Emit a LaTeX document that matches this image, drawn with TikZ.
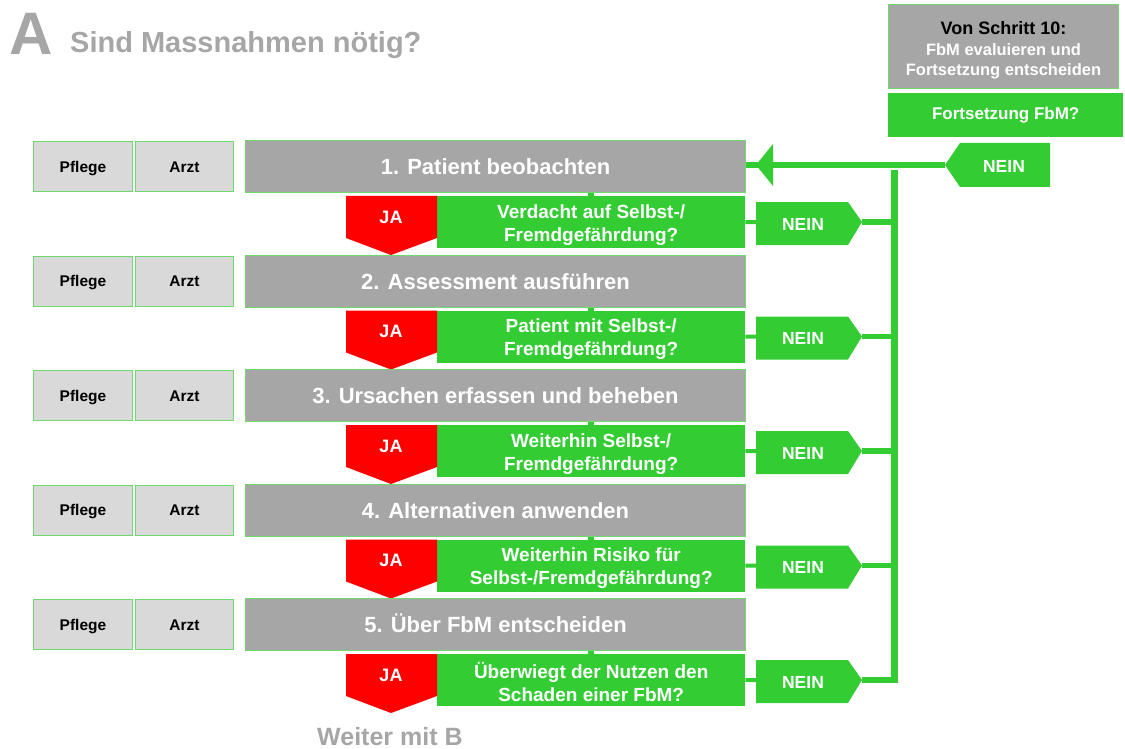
\documentclass[tikz,border=0pt]{standalone}
\usepackage{fontspec}
\setmainfont{Liberation Sans}
\usetikzlibrary{calc}
\definecolor{boxgray}{HTML}{A6A6A6}
\definecolor{fgreen}{HTML}{33CC33}
\definecolor{lgray}{HTML}{D9D9D9}
\definecolor{bgreen}{HTML}{70D870}
\definecolor{jared}{HTML}{FF0000}
\definecolor{titlegray}{HTML}{A6A6A6}
\tikzset{
 pfl/.style={draw=bgreen, line width=1pt, fill=lgray, minimum width=99pt, minimum height=50pt, inner sep=0pt, anchor=north west, font=\bfseries\fontsize{15.5}{18}\selectfont, text=black, text height=11pt, text depth=0pt},
 stepbox/.style={draw=bgreen, line width=1pt, fill=boxgray, minimum width=500pt, minimum height=52pt, inner sep=0pt, anchor=north west, font=\bfseries\fontsize{22}{26}\selectfont, text=white, text height=16pt, text depth=0pt},
 qbox/.style={fill=fgreen, minimum width=308pt, minimum height=52pt, inner sep=0pt, anchor=north west, align=center, font=\bfseries\fontsize{19}{23}\selectfont, text=white},
 jatext/.style={font=\bfseries\fontsize{18}{20}\selectfont, text=white, inner sep=0pt},
 neintext/.style={font=\bfseries\fontsize{17.5}{20}\selectfont, text=white, inner sep=0pt},
 titletext/.style={anchor=base west, text=titlegray, inner sep=0pt},
 jashape/.style={fill=jared},
 neinshape/.style={fill=fgreen},
 thinlink/.style={draw=fgreen, line width=4pt},
 link/.style={draw=fgreen, line width=5.5pt},
 mainlink/.style={draw=fgreen, line width=6pt},
}
\newcommand\flowrow[4]{%
 \node[pfl] (pf#1) at (33,#2+1) {Pflege};
 \node[pfl, minimum width=98pt] (ar#1) at (135,#2+1) {Arzt};
 \node[stepbox] (s#1) at (245,#2) {#3};
 \node[qbox] (q#1) at (437,#2+56) {\rule{0pt}{19pt}#4};
 \fill[jashape] (346,#2+56) -- (437,#2+56) -- (437,#2+98) -- (391,#2+115) -- (346,#2+98) -- cycle;
 \node[jatext] (ja#1) at (391,#2+77) {JA};
 \coordinate (nl#1) at (756,#2+82);
 \coordinate (nt#1) at (862,#2+82);
 \fill[neinshape] (756,#2+62) -- (848,#2+62) -- (nt#1) -- (848,#2+105) -- (756,#2+105) -- cycle;
 \node[neintext] (n#1) at (803,#2+84) {NEIN};
 \draw[link] (s#1.south -| q#1.north) -- (q#1.north);
 \draw[thinlink] (q#1.east) -- (nl#1);
 \draw[link] (nt#1) -- (nt#1 -| vline);
}
\begin{document}
\begin{tikzpicture}[x=1pt,y=-1pt]
\useasboundingbox (0,0) rectangle (1125,749);
% title
\node[titletext, font=\bfseries\fontsize{60}{60}\selectfont] (bigA) at (9,55) {A};
\node[titletext, font=\bfseries\fontsize{29}{32}\selectfont] (title) at (70,53) {Sind Massnahmen nötig?};
% top right
\node[draw=bgreen, line width=1pt, fill=boxgray, minimum width=230pt, minimum height=84pt, anchor=north west, align=center, text=white, font=\bfseries\fontsize{16.5}{20}\selectfont, inner sep=0pt] (von) at (888,4) {{\color{black}\fontsize{18}{21}\selectfont\rule{0pt}{21pt}Von Schritt 10:}\\[1pt]FbM evaluieren und\\Fortsetzung entscheiden};
\node[fill=fgreen, minimum width=235pt, minimum height=44pt, anchor=north west, text=white, font=\bfseries\fontsize{17}{20}\selectfont, inner sep=0pt] (fz) at (888,93) {Fortsetzung FbM?};
\coordinate (ntip) at (945,165);
\fill[neinshape] (ntip) -- (960,143) -- (1050,143) -- (1050,187) -- (960,187) -- cycle;
\node[neintext] (ntop) at (1004,166) {NEIN};
% vertical return line
\coordinate (vline) at (897,0);
\coordinate (vtop) at (894,170);
\coordinate (vbot) at (894,683);
\draw[mainlink, line width=7pt] (vtop) -- (vbot);
% rows
\flowrow{1}{140}{1. Patient beobachten}{Verdacht auf Selbst-/\\Fremdgefährdung?}
\flowrow{2}{254.5}{2. Assessment ausführen}{Patient mit Selbst-/\\Fremdgefährdung?}
\flowrow{3}{369}{3. Ursachen erfassen und beheben}{Weiterhin Selbst-/\\Fremdgefährdung?}
\flowrow{4}{483.5}{4. Alternativen anwenden}{Weiterhin Risiko für\\Selbst-/Fremdgefährdung?}
\flowrow{5}{598}{5. Über FbM entscheiden}{Überwiegt der Nutzen den\\Schaden einer FbM?}
% main return arrow
\draw[mainlink] (ntip) -- (s1.east |- ntip);
\fill[fgreen] ($(s1.east |- ntip)+(10,0)$) -- ++(17,-21) -- ++(0,42) -- cycle;
% bottom
\node[titletext, font=\bfseries\fontsize{25}{28}\selectfont] (weiter) at (317,745) {Weiter mit B};
\end{tikzpicture}
\end{document}
